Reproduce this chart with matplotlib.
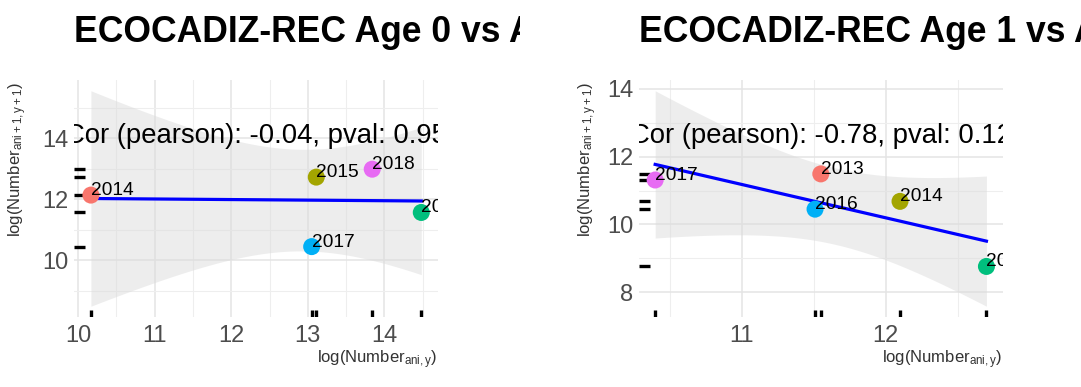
import numpy as np
import matplotlib
matplotlib.use("Agg")
import matplotlib.pyplot as plt
from matplotlib.transforms import Bbox, TransformedBbox

plt.rcParams["font.family"] = ["Liberation Sans", "DejaVu Sans"]
plt.rcParams["mathtext.fontset"] = "custom"
plt.rcParams["mathtext.rm"] = "Liberation Sans"
plt.rcParams["mathtext.it"] = "Liberation Sans:italic"

# ---- data ---------------------------------------------------------------
titles = ["ECOCADIZ-REC Age 0 vs Age 1", "ECOCADIZ-REC Age 1 vs Age 2"]

years_a = ["2014", "2015", "2016", "2017", "2018"]
x_a = [10.17, 13.11, 14.48, 13.05, 13.84]
y_a = [12.13, 12.72, 11.56, 10.44, 12.98]

years_b = ["2013", "2014", "2015", "2016", "2017"]
x_b = [11.55, 12.10, 12.70, 11.51, 10.40]
y_b = [11.49, 10.68, 8.76, 10.45, 11.31]

cor_vals = [-0.04, -0.78]
pvals = [0.95, 0.12]

x_major = [[10, 11, 12, 13, 14], [11, 12]]
x_minor = [[10.5, 11.5, 12.5, 13.5, 14.5], [10.5, 11.5, 12.5]]
y_major = [[10, 12, 14], [8, 10, 12, 14]]
y_minor = [[9, 11, 13, 15], [9, 11, 13]]

year_colors = ["#F8766D", "#A3A500", "#00BF7D", "#00B0F6", "#E76BF3"]
T975_DF3 = 3.182446  # Student t quantile, 3 degrees of freedom

# ---- figure -------------------------------------------------------------
W, H = 1081, 387
fig = plt.figure(figsize=(W / 100, H / 100), dpi=100)


def px_axes(left, right, top, bottom):
    return fig.add_axes([left / W, 1 - bottom / H, (right - left) / W, (bottom - top) / H])


def lm_band(x, y, n=80):
    x = np.asarray(x, float)
    y = np.asarray(y, float)
    slope, icpt = np.polyfit(x, y, 1)
    xs = np.linspace(x.min(), x.max(), n)
    fit = icpt + slope * xs
    resid = y - (icpt + slope * x)
    s = np.sqrt(np.sum(resid ** 2) / (len(x) - 2))
    sxx = np.sum((x - x.mean()) ** 2)
    se = s * np.sqrt(1 / len(x) + (xs - x.mean()) ** 2 / sxx)
    return xs, fit, fit - T975_DF3 * se, fit + T975_DF3 * se


def expand(lo, hi, f=0.05):
    d = (hi - lo) * f
    return lo - d, hi + d


panels = [
    dict(years=years_a, x=x_a, y=y_a, box=(74.4, 437.8, 80, 317), ylab_x=18, title_clip=520),
    dict(years=years_b, x=x_b, y=y_b, box=(638.6, 1003, 80, 317), ylab_x=588, title_clip=W),
]

for i, p in enumerate(panels):
    left, right, top, bottom = p["box"]
    ax = px_axes(left, right, top, bottom)
    xs, fit, lo, hi = lm_band(p["x"], p["y"])

    ax.set_xlim(*expand(min(p["x"]), max(p["x"])))
    ax.set_ylim(*expand(min(min(p["y"]), lo.min()), max(max(p["y"]), hi.max())))

    for s in ax.spines.values():
        s.set_visible(False)
    ax.set_xticks(x_major[i])
    ax.set_yticks(y_major[i])
    ax.set_xticks(x_minor[i], minor=True)
    ax.set_yticks(y_minor[i], minor=True)
    ax.grid(True, which="major", color="#E4E4E4", lw=1.1)
    ax.grid(True, which="minor", color="#EEEEEE", lw=0.8)
    ax.set_axisbelow(True)
    ax.tick_params(which="both", length=0)
    ax.tick_params(axis="x", pad=6, labelsize=17, labelcolor="#4D4D4D")
    ax.tick_params(axis="y", pad=4, labelsize=17, labelcolor="#4D4D4D")

    # confidence band and fitted line
    ax.fill_between(xs, lo, hi, color="#DCDCDC", alpha=0.5, lw=0, zorder=1)
    ax.plot(xs, fit, color="#0000FF", lw=2.3, zorder=3)

    # rugs along the bottom and left edges
    for xv in p["x"]:
        ax.plot([xv, xv], [0, 0.03], transform=ax.get_xaxis_transform(),
                color="black", lw=2.4, solid_capstyle="butt", zorder=2)
    for yv in p["y"]:
        ax.plot([0, 0.03], [yv, yv], transform=ax.get_yaxis_transform(),
                color="black", lw=2.4, solid_capstyle="butt", zorder=2)

    ax.scatter(p["x"], p["y"], s=150, c=year_colors, lw=0, zorder=4)
    for yr, xv, yv in zip(p["years"], p["x"], p["y"]):
        ax.text(xv, yv, yr, fontsize=13.8, color="black", ha="left", va="baseline",
                zorder=5, clip_on=True)

    ax.text(0.5, 0.765, f"Cor (pearson): {cor_vals[i]:.2f}, pval: {pvals[i]:.2f}",
            transform=ax.transAxes, ha="center", va="center", fontsize=19.8,
            color="black", clip_on=True, zorder=6)

    # axis titles
    fig.text(right / W, 1 - 360 / H, r"log(Number$_{\mathrm{ani,y}}$)", ha="right",
             va="center", fontsize=12, color="#333333")
    fig.text(p["ylab_x"] / W, 1 - (top + 2) / H, r"log(Number$_{\mathrm{ani+1,y+1}}$)",
             rotation=90, ha="center", va="top", fontsize=12, color="#333333")

    # panel title, cut off at the edge of its plot region
    t = fig.text(left / W, 1 - 42 / H, titles[i], ha="left", va="baseline",
                 fontsize=25.6, fontweight="bold", color="black")
    t.set_clip_box(TransformedBbox(Bbox([[0, 0], [p["title_clip"] / W, 1]]), fig.transFigure))
    t.set_clip_on(True)

fig.savefig("out.png", dpi=100, facecolor="white")
